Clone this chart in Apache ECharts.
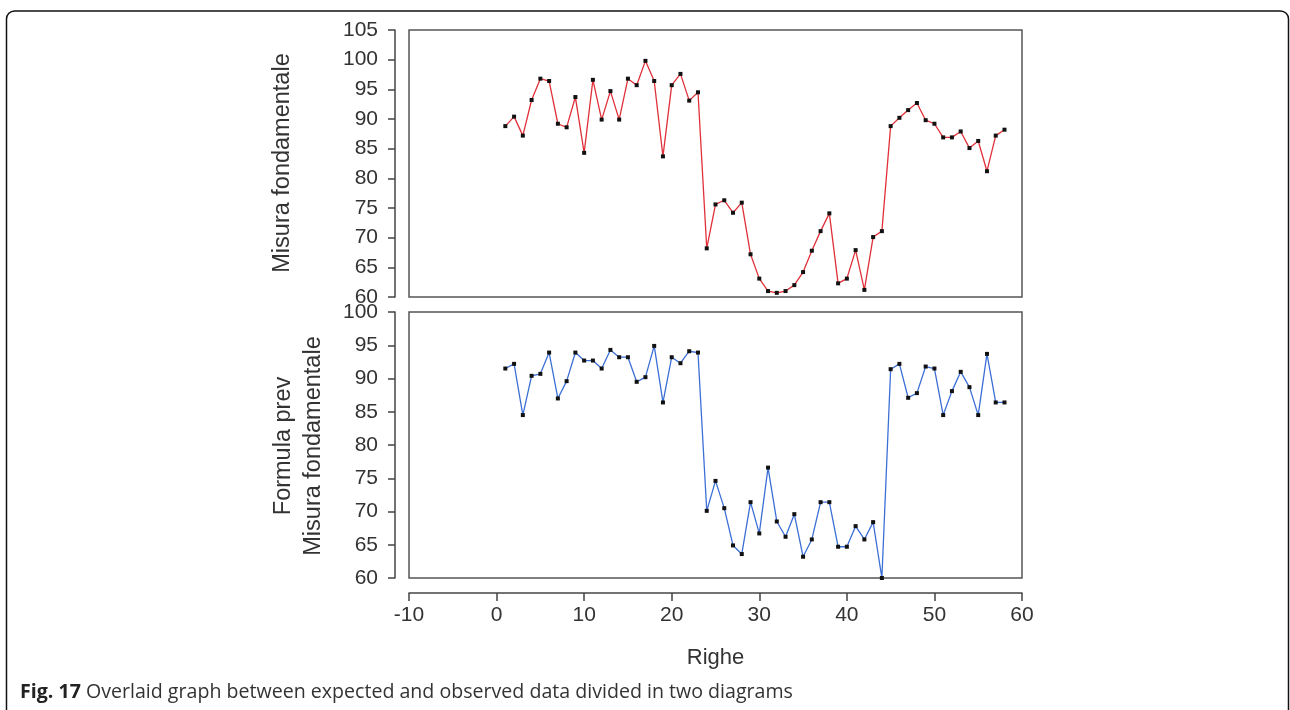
<!DOCTYPE html>
<html>
<head>
<meta charset="utf-8">
<script src="https://cdn.jsdelivr.net/npm/echarts@6/dist/echarts.min.js"></script>
<style>
html,body{margin:0;padding:0;background:#fff;}
#c{width:1290px;height:710px;}
</style>
</head>
<body>
<div id="c"></div>
<script>
var rows = [1,2,3,4,5,6,7,8,9,10,11,12,13,14,15,16,17,18,19,20,21,22,23,24,25,26,27,28,29,30,31,32,33,34,35,36,37,38,39,40,41,42,43,44,45,46,47,48,49,50,51,52,53,54,55,56,57,58];
var observed = [88.8,90.4,87.2,93.2,96.8,96.4,89.2,88.6,93.7,84.3,96.6,89.9,94.7,89.9,96.8,95.7,99.8,96.4,83.7,95.7,97.6,93.1,94.5,68.2,75.6,76.3,74.2,75.9,67.2,63.1,61.0,60.7,61.0,62.0,64.2,67.8,71.1,74.1,62.3,63.1,67.9,61.2,70.1,71.1,88.8,90.2,91.5,92.7,89.8,89.2,86.9,86.9,87.9,85.1,86.3,81.2,87.2,88.2];
var predicted = [91.5,92.2,84.5,90.4,90.7,93.9,87.0,89.6,93.9,92.7,92.7,91.5,94.3,93.2,93.2,89.5,90.2,94.9,86.4,93.2,92.3,94.1,93.9,70.1,74.6,70.5,64.9,63.6,71.4,66.7,76.6,68.5,66.2,69.6,63.2,65.8,71.4,71.4,64.7,64.7,67.8,65.8,68.4,60.0,91.4,92.2,87.1,87.8,91.8,91.5,84.5,88.1,91.0,88.7,84.5,93.7,86.4,86.4];
var xTicks = [-10, 60, 10];
var topYTicks = [60, 105, 5];
var bottomYTicks = [60, 100, 5];

function pairs(xs, ys){ return xs.map(function(x,i){ return [x, ys[i]]; }); }

var axisColor = '#444';
var labelFont = {fontFamily:'Liberation Sans, Arial, sans-serif', fontSize:21, color:'#333'};

var chart = echarts.init(document.getElementById('c'), null, {renderer:'canvas'});
chart.setOption({
  animation:false,
  backgroundColor:'#fff',
  grid:[
    {left:409, top:30, width:613, height:267, show:true, borderColor:'#555', borderWidth:1.5, backgroundColor:'transparent'},
    {left:409, top:312, width:613, height:266, show:true, borderColor:'#555', borderWidth:1.5, backgroundColor:'transparent'}
  ],
  xAxis:[
    {gridIndex:0, type:'value', min:xTicks[0], max:xTicks[1], interval:xTicks[2], show:false},
    {gridIndex:1, type:'value', min:xTicks[0], max:xTicks[1], interval:xTicks[2], position:'bottom', offset:15,
     axisLine:{show:true, onZero:false, lineStyle:{color:axisColor, width:1.5}},
     axisTick:{show:true, inside:false, length:8, lineStyle:{color:axisColor, width:1.5}},
     axisLabel:Object.assign({margin:12}, labelFont),
     splitLine:{show:false},
     name:'Righe', nameLocation:'middle', nameGap:54,
     nameTextStyle:{fontFamily:'Liberation Sans, Arial, sans-serif', fontSize:22, color:'#333'}}
  ],
  yAxis:[
    {gridIndex:0, type:'value', min:topYTicks[0], max:topYTicks[1], interval:topYTicks[2], position:'left', offset:14,
     axisLine:{show:true, onZero:false, lineStyle:{color:axisColor, width:1.5}},
     axisTick:{show:true, inside:false, length:7, lineStyle:{color:axisColor, width:1.5}},
     axisLabel:Object.assign({margin:17}, labelFont),
     splitLine:{show:false}},
    {gridIndex:1, type:'value', min:bottomYTicks[0], max:bottomYTicks[1], interval:bottomYTicks[2], position:'left', offset:14,
     axisLine:{show:true, onZero:false, lineStyle:{color:axisColor, width:1.5}},
     axisTick:{show:true, inside:false, length:7, lineStyle:{color:axisColor, width:1.5}},
     axisLabel:Object.assign({margin:17}, labelFont),
     splitLine:{show:false}}
  ],
  series:[
    {type:'line', xAxisIndex:0, yAxisIndex:0, data:pairs(rows, observed),
     symbol:'rect', symbolSize:4, showAllSymbol:true,
     itemStyle:{color:'#111'}, lineStyle:{color:'#e0303a', width:1.3}},
    {type:'line', xAxisIndex:1, yAxisIndex:1, data:pairs(rows, predicted),
     symbol:'rect', symbolSize:4, showAllSymbol:true,
     itemStyle:{color:'#111'}, lineStyle:{color:'#3b6fd6', width:1.3}}
  ],
  graphic:[
    {type:'rect', shape:{x:6.5, y:11, width:1282, height:740, r:8}, style:{fill:'none', stroke:'#111', lineWidth:1.5}, silent:true},
    {type:'text', x:283, y:163, rotation:Math.PI/2, style:{text:'Misura fondamentale', fontFamily:'Liberation Sans, Arial, sans-serif', fontSize:23.5, fill:'#333', align:'center', verticalAlign:'middle'}},
    {type:'text', x:284, y:446, rotation:Math.PI/2, style:{text:'Formula prev', fontFamily:'Liberation Sans, Arial, sans-serif', fontSize:23.5, fill:'#333', align:'center', verticalAlign:'middle'}},
    {type:'text', x:314, y:446, rotation:Math.PI/2, style:{text:'Misura fondamentale', fontFamily:'Liberation Sans, Arial, sans-serif', fontSize:23.5, fill:'#333', align:'center', verticalAlign:'middle'}},
    {type:'text', x:20, y:692, style:{text:'{b|Fig. 17} Overlaid graph between expected and observed data divided in two diagrams',
      fontFamily:'Open Sans, sans-serif', fontSize:19.6, fill:'#333', verticalAlign:'middle',
      rich:{b:{fontFamily:'Open Sans, sans-serif', fontSize:19.6, fontWeight:'bold', fill:'#222'}}}}
  ]
});
</script>
</body>
</html>
